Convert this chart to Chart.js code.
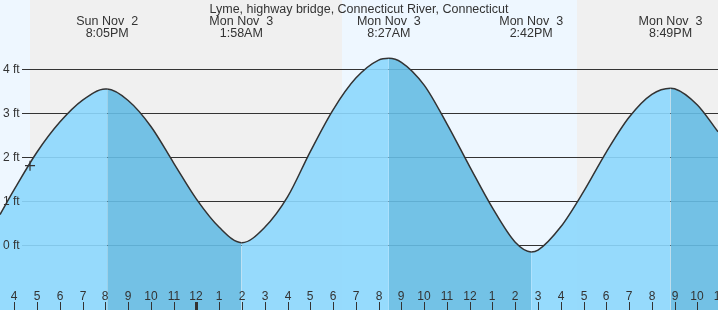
<!DOCTYPE html>
<html>
<head>
<meta charset="utf-8">
<script src="https://cdn.jsdelivr.net/npm/chart.js@4/dist/chart.umd.min.js"></script>
<style>
  html, body { margin: 0; padding: 0; background: #fff; }
  canvas { display: block; }
</style>
</head>
<body>
<canvas id="tideChart" width="718" height="310"></canvas>
<script>
// ---- Data (hours counted from Sun Nov 2, 00:00) ----
const title = 'Lyme, highway bridge, Connecticut River, Connecticut';
const tideHours = [15.372, 16, 17, 18, 19, 20, 20.08, 21, 22, 23, 24, 25, 25.97, 26, 27, 28, 29, 30, 31, 32, 32.45,
                   33, 34, 35, 36, 37, 38, 38.70, 39, 40, 41, 42, 43, 44, 44.82, 45, 46, 46.905];
const tideFeet  = [0.70, 1.27, 2.12, 2.80, 3.30, 3.55, 3.55, 3.29, 2.70, 1.87, 1.05, 0.41, 0.06, 0.06, 0.41, 1.10, 2.13, 3.08, 3.80, 4.21, 4.25,
                   4.16, 3.64, 2.76, 1.79, 0.85, 0.07, -0.15, -0.11, 0.42, 1.22, 2.12, 2.91, 3.43, 3.57, 3.56, 3.19, 2.58];

const eventHours = [20.08, 25.97, 32.45, 38.70, 44.82];
const eventDays  = ['Sun Nov  2', 'Mon Nov  3', 'Mon Nov  3', 'Mon Nov  3', 'Mon Nov  3'];
const eventTimes = ['8:05PM', '1:58AM', '8:27AM', '2:42PM', '8:49PM'];

const nowHour = [16.69];
const nowFeet = [1.81];

// night periods [start, end] in hours
const nightStarts = [16.69, 40.71];
const nightEnds   = [30.39, 48];

const footTicks = [0, 1, 2, 3, 4];

const xMin = 15.372, xMax = 46.905;
const yMin = -1.47, yMax = 5.575;

// ---- Colours ----
const dayColor = '#eef7ff';
const nightColor = '#f0f0f0';
const risingFill = 'rgba(140,215,253,0.9)';
const fallingFill = 'rgba(101,187,227,0.9)';
const inkColor = '#333';
const font = '"Liberation Sans", Arial, sans-serif';

const hourLabel = h => String(((h - 1) % 12 + 12) % 12 + 1);

const tidePlugin = {
  id: 'tideDecor',
  beforeDraw(chart) {
    const { ctx, chartArea: a, scales: { x } } = chart;
    ctx.save();
    ctx.fillStyle = dayColor;
    ctx.fillRect(a.left, a.top, a.right - a.left, a.bottom - a.top);
    ctx.fillStyle = nightColor;
    nightStarts.forEach((s, i) => {
      const x0 = Math.max(a.left, x.getPixelForValue(s));
      const x1 = Math.min(a.right, x.getPixelForValue(nightEnds[i]));
      ctx.fillRect(Math.round(x0), a.top, Math.round(x1) - Math.round(x0), a.bottom - a.top);
    });
    ctx.restore();
  },
  beforeDatasetsDraw(chart) {
    const { ctx, chartArea: a, scales: { y } } = chart;
    ctx.save();
    ctx.strokeStyle = inkColor;
    ctx.lineWidth = 1;
    footTicks.forEach(v => {
      const py = Math.round(y.getPixelForValue(v)) + 0.5;
      ctx.beginPath();
      ctx.moveTo(22, py);
      ctx.lineTo(a.right, py);
      ctx.stroke();
    });
    ctx.restore();
  },
  afterDatasetsDraw(chart) {
    const { ctx, chartArea: a, scales: { x, y } } = chart;
    ctx.save();
    ctx.fillStyle = inkColor;
    ctx.strokeStyle = inkColor;

    // y labels
    ctx.font = '12px ' + font;
    ctx.textAlign = 'left';
    ctx.textBaseline = 'middle';
    footTicks.forEach(v => ctx.fillText(v + ' ft', 3, y.getPixelForValue(v) + 0.5));

    // hour labels and ticks
    ctx.textAlign = 'center';
    ctx.textBaseline = 'alphabetic';
    for (let h = Math.ceil(xMin); h <= Math.floor(xMax) + 1; h++) {
      const px = Math.round(x.getPixelForValue(h));
      ctx.fillText(hourLabel(h), px, 300);
      if (h % 24 === 0) {
        ctx.fillRect(px - 1, 302, 3, 8);
      } else {
        ctx.fillRect(px, 302, 1, 8);
      }
    }

    // title and event labels
    ctx.font = '12.5px ' + font;
    ctx.fillText(title, (a.left + a.right) / 2, 13);
    eventHours.forEach((h, i) => {
      const px = x.getPixelForValue(h);
      ctx.fillText(eventDays[i], px, 25);
      ctx.fillText(eventTimes[i], px, 37);
    });
    ctx.restore();
  }
};

new Chart(document.getElementById('tideChart'), {
  type: 'line',
  data: {
    datasets: [
      {
        label: 'Now',
        type: 'scatter',
        data: nowHour.map((h, i) => ({ x: h, y: nowFeet[i] })),
        pointStyle: 'cross',
        pointRadius: 5,
        borderColor: inkColor,
        borderWidth: 1.2,
        order: 0
      },
      {
        label: 'Tide (ft)',
        data: tideHours.map((h, i) => ({ x: h, y: tideFeet[i] })),
        borderColor: inkColor,
        borderWidth: 1.5,
        backgroundColor: risingFill,
        fill: 'start',
        pointRadius: 0,
        cubicInterpolationMode: 'monotone',
        segment: {
          backgroundColor: c => c.p1.parsed.y < c.p0.parsed.y ? fallingFill : risingFill
        },
        order: 1
      }
    ]
  },
  options: {
    responsive: false,
    animation: false,
    devicePixelRatio: 1,
    layout: { padding: 0, autoPadding: false },
    plugins: { legend: { display: false }, tooltip: { enabled: false } },
    scales: {
      x: { type: 'linear', min: xMin, max: xMax, display: false },
      y: { type: 'linear', min: yMin, max: yMax, display: false }
    }
  },
  plugins: [tidePlugin]
});
</script>
</body>
</html>
